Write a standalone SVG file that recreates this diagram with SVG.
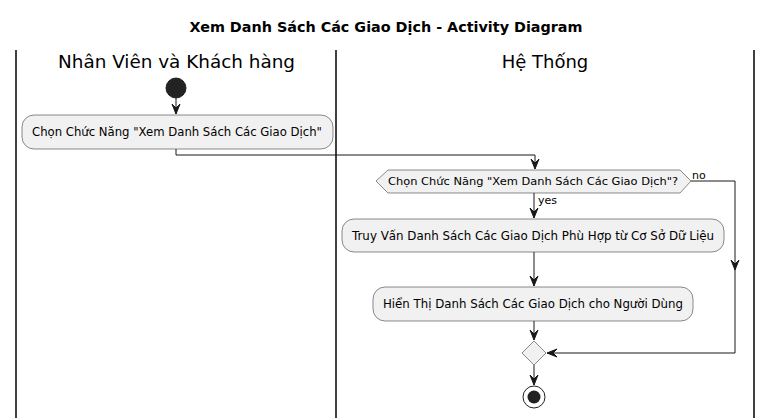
<svg xmlns="http://www.w3.org/2000/svg" width="772" height="418" viewBox="0 0 772 418">
<style>
text{font-family:"DejaVu Sans","Liberation Sans",sans-serif;fill:#000}
.node{fill:#F1F1F1;stroke:#181818;stroke-width:0.5}
.lane{stroke:#000;stroke-width:1.5}
.edge{fill:none;stroke:#181818;stroke-width:1}
.head{fill:#181818;stroke:#181818;stroke-width:1}
.act{font-size:12px;text-anchor:middle}
</style>
<rect width="772" height="418" fill="#FFFFFF"/>
<text x="386" y="32" text-anchor="middle" font-size="14" font-weight="bold" textLength="393" lengthAdjust="spacingAndGlyphs">Xem Danh Sách Các Giao Dịch - Activity Diagram</text>
<g id="lanes">
<line class="lane" x1="16" y1="50" x2="16" y2="418"/>
<line class="lane" x1="336" y1="50" x2="336" y2="418"/>
<line class="lane" x1="754" y1="50" x2="754" y2="418"/>
<text x="176.5" y="68" text-anchor="middle" font-size="18" textLength="237" lengthAdjust="spacingAndGlyphs">Nhân Viên và Khách hàng</text>
<text x="545" y="68" text-anchor="middle" font-size="18">Hệ Thống</text>
</g>
<g id="start"><circle cx="176" cy="88" r="10" fill="#222222" stroke="#222222"/></g>
<g id="a1"><rect class="node" x="22" y="115" width="311" height="34" rx="12"/><text class="act" x="177" y="136" textLength="290" lengthAdjust="spacingAndGlyphs">Chọn Chức Năng "Xem Danh Sách Các Giao Dịch"</text></g>
<g id="d1"><polygon class="node" points="376,181 388,170 680,170 691,181 680,193 388,193"/><text x="533" y="185" text-anchor="middle" font-size="11" textLength="290" lengthAdjust="spacingAndGlyphs">Chọn Chức Năng "Xem Danh Sách Các Giao Dịch"?</text></g>
<g id="a2"><rect class="node" x="342" y="219" width="382" height="33" rx="12"/><text class="act" x="533" y="240" textLength="362" lengthAdjust="spacingAndGlyphs">Truy Vấn Danh Sách Các Giao Dịch Phù Hợp từ Cơ Sở Dữ Liệu</text></g>
<g id="a3"><rect class="node" x="373" y="287" width="320" height="34" rx="12"/><text class="act" x="533" y="308" textLength="300" lengthAdjust="spacingAndGlyphs">Hiển Thị Danh Sách Các Giao Dịch cho Người Dùng</text></g>
<g id="merge"><polygon class="node" points="534,341 546,353 534,365 522,353"/></g>
<g id="end"><circle cx="534" cy="397" r="11" fill="none" stroke="#222222" stroke-width="1"/><circle cx="534" cy="397" r="6.5" fill="#222222"/></g>
<g id="connectors">
<path class="edge" d="M176,98 L176,114"/>
<path class="head" d="M176,114 L172,104 L176,108 L180,104 Z"/>
<path class="edge" d="M176,149 L176,155 L535,155 L535,169"/>
<path class="head" d="M535,169 L531,159 L535,163 L539,159 Z"/>
<path class="edge" d="M534,193 L534,218"/>
<path class="head" d="M534,218 L530,208 L534,212 L538,208 Z"/>
<text x="538" y="204" font-size="11">yes</text>
<path class="edge" d="M691,181 L735,181 L735,353 L547,353"/>
<path class="head" d="M735,270 L731,260 L735,264 L739,260 Z"/>
<path class="head" d="M547,353 L557,349 L553,353 L557,357 Z"/>
<text x="692" y="179" font-size="11">no</text>
<path class="edge" d="M534,252 L534,286"/>
<path class="head" d="M534,286 L530,276 L534,280 L538,276 Z"/>
<path class="edge" d="M534,321 L534,340"/>
<path class="head" d="M534,340 L530,330 L534,334 L538,330 Z"/>
<path class="edge" d="M534,365 L534,385"/>
<path class="head" d="M534,385 L530,375 L534,379 L538,375 Z"/>
</g>
</svg>
